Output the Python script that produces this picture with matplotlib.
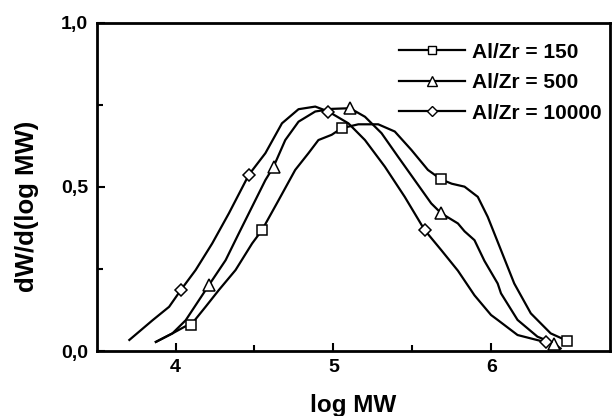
import matplotlib
matplotlib.use("Agg")
import matplotlib.pyplot as plt
from matplotlib.lines import Line2D

plt.rcParams['font.family'] = ['Liberation Sans', 'DejaVu Sans']
plt.rcParams['font.weight'] = 'bold'

# Al/Zr = 150 (squares)
x150 = [3.875, 3.98, 4.06, 4.096, 4.19, 4.274, 4.38, 4.485, 4.548, 4.653, 4.758, 4.842,
        4.905, 4.989, 5.052, 5.158, 5.284, 5.389, 5.494, 5.599, 5.683, 5.75, 5.831, 5.915,
        5.978, 6.041, 6.146, 6.251, 6.377, 6.483]
y150 = [0.028, 0.054, 0.075, 0.079, 0.135, 0.186, 0.247, 0.328, 0.369, 0.46, 0.552, 0.603,
        0.643, 0.659, 0.679, 0.691, 0.691, 0.669, 0.613, 0.552, 0.523, 0.51, 0.501, 0.47,
        0.409, 0.333, 0.206, 0.115, 0.054, 0.031]
mx150 = [4.096, 4.548, 5.052, 5.683, 6.483]
my150 = [0.079, 0.369, 0.679, 0.523, 0.031]

# Al/Zr = 500 (triangles)
x500 = [3.875, 3.98, 4.064, 4.211, 4.317, 4.401, 4.485, 4.569, 4.621, 4.695, 4.779, 4.885,
        4.99, 5.105, 5.2, 5.305, 5.41, 5.515, 5.62, 5.683, 5.789, 5.831, 5.894, 5.957,
        6.041, 6.062, 6.167, 6.293, 6.399, 6.44]
y500 = [0.028, 0.054, 0.094, 0.201, 0.277, 0.359, 0.44, 0.521, 0.562, 0.643, 0.699, 0.73,
        0.738, 0.74, 0.714, 0.664, 0.592, 0.521, 0.45, 0.42, 0.389, 0.365, 0.338, 0.275,
        0.206, 0.176, 0.095, 0.044, 0.023, 0.008]
mx500 = [4.211, 4.621, 5.105, 5.683, 6.399]
my500 = [0.201, 0.562, 0.74, 0.42, 0.023]

# Al/Zr = 10000 (diamonds)
x10k = [3.707, 3.854, 3.959, 4.033, 4.127, 4.232, 4.338, 4.464, 4.569, 4.674, 4.779, 4.885,
        4.968, 5.095, 5.2, 5.326, 5.452, 5.578, 5.683, 5.789, 5.894, 5.999, 6.041, 6.167,
        6.346]
y10k = [0.034, 0.094, 0.135, 0.186, 0.247, 0.328, 0.42, 0.537, 0.603, 0.694, 0.737, 0.745,
        0.73, 0.694, 0.643, 0.562, 0.47, 0.369, 0.308, 0.245, 0.17, 0.11, 0.095, 0.049,
        0.027]
mx10k = [4.033, 4.464, 4.968, 5.578, 6.346]
my10k = [0.186, 0.537, 0.73, 0.369, 0.027]

series = [
    ("Al/Zr = 150", x150, y150, mx150, my150, "s", 7, 5.5),
    ("Al/Zr = 500", x500, y500, mx500, my500, "^", 8, 6.5),
    ("Al/Zr = 10000", x10k, y10k, mx10k, my10k, "D", 6, 5),
]

fig = plt.figure(figsize=(6.12, 4.16), dpi=100)
ax = fig.add_axes([0.158, 0.156, 0.838, 0.789])

handles = []
for label, x, y, mx, my, mk, ms, lms in series:
    ax.plot(x, y, color="black", lw=1.6, zorder=2, solid_joinstyle="round")
    ax.plot(mx, my, ls="none", marker=mk, ms=ms, mfc="white", mec="black", mew=1.1, zorder=3)
    handles.append(Line2D([], [], color="black", lw=1.6, marker=mk, ms=lms,
                          mfc="white", mec="black", mew=1.0, label=label))

ax.set_xlim(3.5, 6.75)
ax.set_ylim(0, 1.0)
ax.set_xticks([4, 5, 6])
ax.set_xticks([4.5, 5.5], minor=True)
ax.set_yticks([0.0, 0.5, 1.0])
ax.set_yticklabels(["0,0", "0,5", "1,0"])
ax.set_yticks([0.25, 0.75], minor=True)
ax.tick_params(which="major", direction="in", length=6, width=1.5, labelsize=14, pad=6)
ax.tick_params(which="minor", direction="in", length=4, width=1.5)
for s in ax.spines.values():
    s.set_linewidth(2)

ax.set_xlabel("log MW", fontsize=17.5, fontweight="bold", labelpad=13)
ax.set_ylabel("dW/d(log MW)", fontsize=18.5, fontweight="bold")
ax.yaxis.set_label_coords(-0.113, 0.44)

ax.legend(handles=handles, loc="upper right", frameon=False, fontsize=15,
          handlelength=3.2, handletextpad=0.3, labelspacing=0.55,
          borderaxespad=0.0, bbox_to_anchor=(1.0, 0.965))

fig.savefig("out.png", dpi=100)
